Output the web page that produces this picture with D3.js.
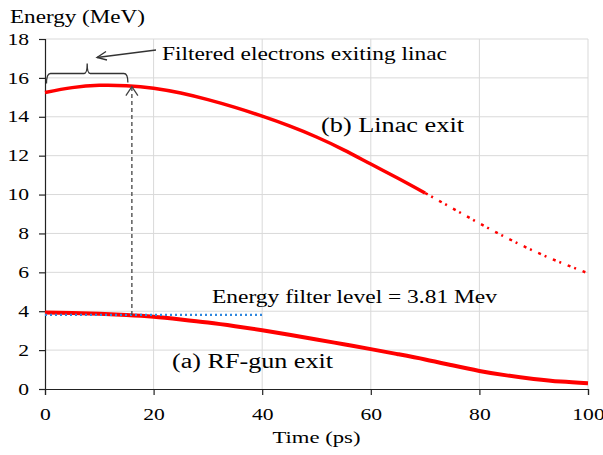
<!DOCTYPE html>
<html><head><meta charset="utf-8">
<script src="https://cdn.jsdelivr.net/npm/d3@7"></script>
<style>body{margin:0;background:#fff}svg{display:block}text{font-family:"Liberation Serif","Tinos","Times New Roman","Noto Serif","DejaVu Serif",serif;fill:#000}</style>
</head><body>
<svg id="c" width="603" height="455"></svg>
<script>
const time = [0,5,10,15,20,25,30,35,40,45,50,55,60,65,70,75,80,85,90,95,100];
const linacExit = [15.25,15.5,15.62,15.6,15.47,15.22,14.88,14.48,14.03,13.53,12.96,12.3,11.57,10.84,10.08,9.3,8.52,7.78,7.1,6.5,5.95];
const rfGunExit = [3.93,3.91,3.87,3.81,3.72,3.58,3.42,3.23,3.02,2.79,2.55,2.3,2.05,1.79,1.52,1.22,0.93,0.7,0.52,0.38,0.3];
const xTicks = [0,20,40,60,80,100];
const yTicks = [0,2,4,6,8,10,12,14,16,18];
const filterLevel = 3.81;
const filterEnd = 40;
const filterTime = 16;

const svg = d3.select("#c");
const m = {l:45, r:588, t:39, b:389};
const x = d3.scaleLinear().domain([0,100]).range([m.l,m.r]);
const y = d3.scaleLinear().domain([0,18]).range([m.b,m.t]);
const DIGIT_W = 10.8;

// grid
svg.append("g").selectAll("line").data(yTicks.filter(d=>d>0)).join("line")
  .attr("x1",m.l).attr("x2",m.r).attr("y1",d=>y(d)).attr("y2",d=>y(d))
  .attr("stroke","#d9d9d9").attr("stroke-width",1);
svg.append("g").selectAll("line").data(xTicks.filter(d=>d>0)).join("line")
  .attr("y1",m.t).attr("y2",m.b).attr("x1",d=>x(d)).attr("x2",d=>x(d))
  .attr("stroke","#d9d9d9").attr("stroke-width",1);

// axes
const xa = svg.append("g").attr("transform",`translate(0,${m.b})`)
  .call(d3.axisBottom(x).tickValues(xTicks).tickSize(6).tickPadding(14));
const ya = svg.append("g").attr("transform",`translate(${m.l},0)`)
  .call(d3.axisLeft(y).tickValues(yTicks).tickSize(6).tickPadding(10));
[xa,ya].forEach(a=>{
  a.attr("font-family",null);
  a.select(".domain").attr("stroke","#222").attr("stroke-width",1.2);
  a.selectAll(".tick line").attr("stroke","#222").attr("stroke-width",1.2);
  a.selectAll(".tick text").style("font-size","16px").attr("fill","#000")
    .attr("textLength",d=>String(d).length*DIGIT_W).attr("lengthAdjust","spacingAndGlyphs");
});

// curves
const line = d3.line().x(d=>x(d[0])).y(d=>y(d[1])).curve(d3.curveNatural);
const rf = time.map((t,i)=>[t,rfGunExit[i]]);
const li = time.map((t,i)=>[t,linacExit[i]]);
svg.append("path").attr("d",line(rf)).attr("fill","none").attr("stroke","#ff0000").attr("stroke-width",4);
svg.append("path").attr("d",line(li.filter(d=>d[0]<=70))).attr("fill","none").attr("stroke","#ff0000").attr("stroke-width",3.5);
svg.append("path").attr("d",line(li.filter(d=>d[0]>=70))).attr("fill","none").attr("stroke","#ff0000").attr("stroke-width",2.5)
  .attr("stroke-dasharray","3,4,2,7");

// filter level
svg.append("line").attr("x1",x(0)).attr("x2",x(filterEnd)).attr("y1",y(filterLevel)).attr("y2",y(filterLevel))
  .attr("stroke","#2e86de").attr("stroke-width",2.2).attr("stroke-dasharray","2,3");

// vertical dashed arrow
const peakAt = linacExit[3];
const ax = x(filterTime);
svg.append("line").attr("x1",ax).attr("x2",ax).attr("y1",y(filterLevel)).attr("y2",y(peakAt)+1)
  .attr("stroke","#444").attr("stroke-width",1.3).attr("stroke-dasharray","4,3");
svg.append("path").attr("d",`M${ax-6},${y(peakAt)+10}L${ax},${y(peakAt)+1}L${ax+6},${y(peakAt)+10}`)
  .attr("fill","none").attr("stroke","#444").attr("stroke-width",1.3);

// brace
const by = 73.5;
const bx0 = x(0)+1.5, bx1 = ax-4, bm = (bx0+bx1)/2;
svg.append("path").attr("d",`M${bx0},${by+10}Q${bx0},${by} ${bx0+4},${by}L${bm-3},${by}Q${bm},${by} ${bm},${by-10}Q${bm},${by} ${bm+3},${by}L${bx1-4},${by}Q${bx1},${by} ${bx1},${by+9}`)
  .attr("fill","none").attr("stroke","#333").attr("stroke-width",1.3);

// label arrow
svg.append("line").attr("x1",156).attr("y1",50).attr("x2",97).attr("y2",57.5).attr("stroke","#333").attr("stroke-width",1.3);
svg.append("path").attr("d","M106,51.5L97,57.5L107,60").attr("fill","none").attr("stroke","#333").attr("stroke-width",1.3);

// texts
function label(tx,ty,size,w,str,anchor){
  const t = svg.append("text").attr("x",tx).attr("y",ty).style("font-size",size+"px")
    .attr("textLength",w).attr("lengthAdjust","spacingAndGlyphs").text(str);
  if(anchor) t.attr("text-anchor",anchor);
  return t;
}
label(10,23,18,135,"Energy (MeV)");
label(x(50),443,17.5,88,"Time (ps)","middle");
label(162,60,18,285,"Filtered electrons exiting linac");
label(321,132,20,143,"(b) Linac exit");
label(212,303,18,285,"Energy filter level = 3.81 Mev");
label(172,368,20,161,"(a) RF-gun exit");
</script>
</body></html>
